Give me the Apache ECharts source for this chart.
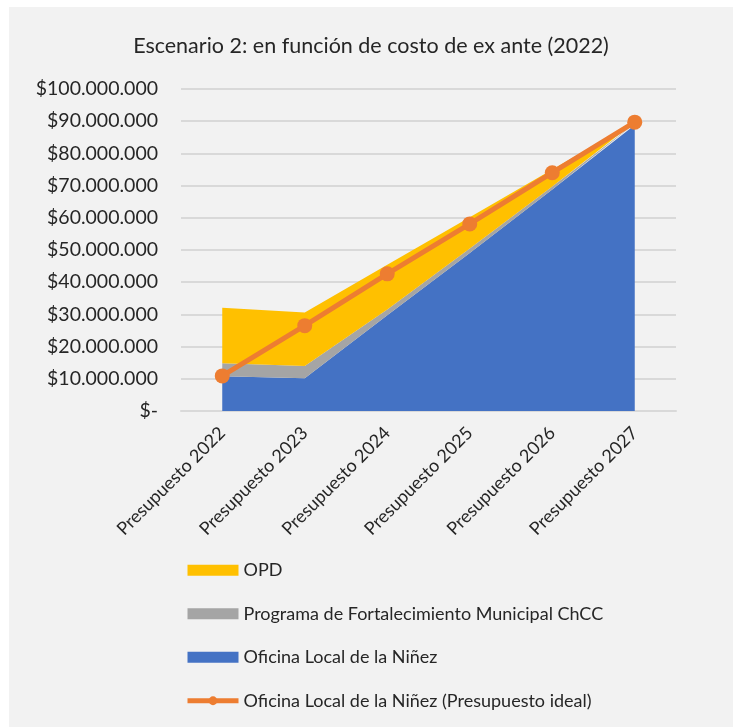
<!DOCTYPE html>
<html>
<head>
<meta charset="utf-8">
<script src="https://cdn.jsdelivr.net/npm/echarts@6/dist/echarts.min.js"></script>
<style>
  html, body { margin: 0; padding: 0; background: #ffffff; }
  #chart { position: absolute; left: 9px; top: 7px; width: 724px; height: 720px; background: #f2f2f2; }
</style>
</head>
<body>
<div id="chart"></div>
<script>
var categories = ['Presupuesto 2022', 'Presupuesto 2023', 'Presupuesto 2024', 'Presupuesto 2025', 'Presupuesto 2026', 'Presupuesto 2027'];
var oficinaLocal = [10800000, 10200000, 29700000, 49100000, 68800000, 88800000];
var programaChCC = [4000000, 3800000, 1800000, 1400000, 900000, 500000];
var opd = [17300000, 16600000, 13900000, 9700000, 5300000, 400000];
var presupuestoIdeal = [10900000, 26500000, 42600000, 58100000, 74000000, 89700000];

var font = 'Lato';
var textColor = '#262626';

function money(v) {
  if (v === 0) return '$-';
  return '$' + String(v).replace(/\B(?=(\d{3})+(?!\d))/g, '.');
}

var chart = echarts.init(document.getElementById('chart'));
var option = {
  backgroundColor: '#f2f2f2',
  animation: false,
  title: {
    text: 'Escenario 2: en función de costo de ex ante (2022)',
    left: 'center',
    top: 23,
    textStyle: { fontFamily: font, fontSize: 21.5, fontWeight: 'normal', color: textColor }
  },
  grid: { left: 172, right: 57, top: 82, bottom: 316 },
  xAxis: {
    type: 'category',
    data: categories,
    boundaryGap: true,
    axisTick: { show: false },
    axisLine: { lineStyle: { color: '#d9d9d9', width: 2 } },
    axisLabel: { rotate: 45, margin: 19, fontFamily: font, fontSize: 18, color: textColor }
  },
  yAxis: {
    type: 'value',
    min: 0,
    max: 100000000,
    interval: 10000000,
    axisLine: { show: false },
    axisTick: { show: false },
    splitLine: { lineStyle: { color: '#d9d9d9', width: 2 } },
    axisLabel: { margin: 23, formatter: money, fontFamily: font, fontSize: 19.5, color: textColor }
  },
  legend: {
    orient: 'vertical',
    left: 171,
    top: 548,
    itemWidth: 51,
    itemHeight: 11,
    itemGap: 23,
    textStyle: { fontFamily: font, fontSize: 18, color: textColor, lineHeight: 20.5 },
    data: [
      { name: 'OPD', icon: 'rect' },
      { name: 'Programa de Fortalecimiento Municipal ChCC', icon: 'rect' },
      { name: 'Oficina Local de la Niñez', icon: 'rect' },
      { name: 'Oficina Local de la Niñez (Presupuesto ideal)', lineStyle: { width: 5 } }
    ]
  },
  series: [
    {
      name: 'Oficina Local de la Niñez',
      type: 'line',
      stack: 'total',
      data: oficinaLocal,
      showSymbol: false,
      color: '#4472c4',
      lineStyle: { width: 0 },
      areaStyle: { color: '#4472c4', opacity: 1 }
    },
    {
      name: 'Programa de Fortalecimiento Municipal ChCC',
      type: 'line',
      stack: 'total',
      data: programaChCC,
      showSymbol: false,
      color: '#a5a5a5',
      lineStyle: { width: 0 },
      areaStyle: { color: '#a5a5a5', opacity: 1 }
    },
    {
      name: 'OPD',
      type: 'line',
      stack: 'total',
      data: opd,
      showSymbol: false,
      color: '#ffc000',
      lineStyle: { width: 0 },
      areaStyle: { color: '#ffc000', opacity: 1 }
    },
    {
      name: 'Oficina Local de la Niñez (Presupuesto ideal)',
      type: 'line',
      data: presupuestoIdeal,
      z: 5,
      color: '#ed7d31',
      symbol: 'circle',
      symbolSize: 15,
      lineStyle: { width: 5, color: '#ed7d31' },
      itemStyle: { color: '#ed7d31' }
    }
  ]
};
chart.setOption(option);
</script>
</body>
</html>
